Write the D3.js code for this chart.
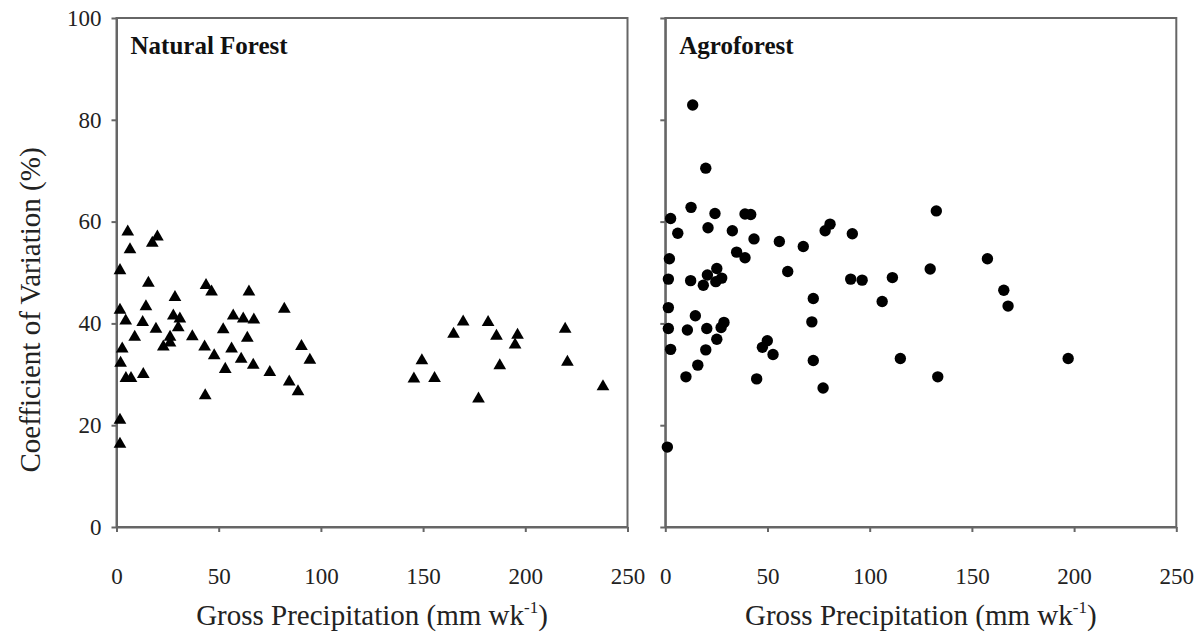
<!DOCTYPE html>
<html>
<head>
<meta charset="utf-8">
<script src="https://cdn.jsdelivr.net/npm/d3@7"></script>
<style>
  body { margin: 0; background: #fff; }
  svg { display: block; font-family: "Liberation Serif", "DejaVu Serif", serif; }
  .ejes path, .ejes line { stroke: #666; stroke-width: 2; }
  .ejes text { font-family: "Liberation Serif", "DejaVu Serif", serif; font-size: 23px; fill: #222; }
  .labels { font-size: 29px; fill: #222; }
  .titulo { font-size: 25px; font-weight: bold; fill: #111; }
</style>
</head>
<body>
<div id="graf"></div>
<script>
// Natural Forest: gross precipitation (mm/wk) and CV (%)
const forestX = [5.5, 20, 17.5, 6.6, 1.7, 15.6, 43.8, 46.5, 64.8, 28.6, 1.7, 14.4, 82.1, 4.5, 12.8,
  27.8, 31, 57.1, 62, 67.2, 19.3, 30.2, 52.2, 8.9, 26.2, 37.1, 64, 22.9, 26.2, 2.8, 43.1, 56.3,
  90.5, 47.8, 61, 94.6, 2, 66.9, 53.2, 75, 4.6, 7.1, 13.1, 84.5, 88.8, 43.4, 1.7, 1.7,
  169.6, 181.8, 164.9, 185.9, 196.2, 195, 219.5, 149.4, 220.6, 145.5, 155.6, 187.5, 177.1, 238]
const forestCV = [58, 57, 55.8, 54.5, 50.4, 47.9, 47.5, 46.2, 46.2, 45.1, 42.6, 43.3, 42.8, 40.5, 40.2,
  41.5, 40.9, 41.5, 40.9, 40.7, 38.9, 39.2, 38.8, 37.3, 37.3, 37.4, 37.1, 35.4, 36.2, 35, 35.4, 35,
  35.5, 33.7, 33, 32.8, 32.2, 31.8, 31, 30.4, 29.2, 29.2, 30, 28.5, 26.6, 25.8, 21, 16.3,
  40.3, 40.2, 37.9, 37.5, 37.7, 35.8, 38.9, 32.7, 32.4, 29.1, 29.2, 31.7, 25.2, 27.6]

// Agroforest
const agroX = [13.4, 19.8, 12.6, 2.6, 24.3, 39, 41.8, 80.6, 78.2, 91.5, 6.1, 20.9, 32.8, 43.4, 55.8,
  67.5, 34.9, 39, 2, 25.2, 59.9, 1.5, 12.4, 20.6, 18.6, 24.7, 27.6, 90.7, 96.3, 72.4, 1.5, 14.7,
  71.7, 1.5, 10.8, 20.3, 28.7, 27.3, 25.2, 49.9, 47.5, 2.6, 19.8, 52.7, 72.4, 15.9, 10.1, 44.7,
  77.2, 1, 132.6, 157.6, 129.6, 111.1, 106.1, 165.6, 167.7, 115, 133.3, 197.1]
const agroCV = [82.9, 70.5, 62.8, 60.6, 61.6, 61.5, 61.4, 59.5, 58.2, 57.6, 57.7, 58.8, 58.2, 56.6, 56.1,
  55.1, 54, 52.9, 52.7, 50.8, 50.2, 48.7, 48.4, 49.5, 47.5, 48.2, 48.9, 48.7, 48.5, 44.9, 43.1, 41.5,
  40.3, 39, 38.7, 39, 40.2, 39.2, 36.9, 36.6, 35.3, 34.9, 34.8, 33.9, 32.7, 31.8, 29.5, 29.1,
  27.3, 15.7, 62.1, 52.7, 50.7, 49, 44.3, 46.5, 43.4, 33.1, 29.5, 33.1]

const xTicks = [0, 50, 100, 150, 200, 250]
const yTicks = [0, 20, 40, 60, 80, 100]

const paneles = [
  { nombre: "Natural Forest", xs: forestX, ys: forestCV, forma: d3.symbolTriangle, left: 116.5, etiquetasY: true },
  { nombre: "Agroforest", xs: agroX, ys: agroCV, forma: d3.symbolCircle, left: 665.3, etiquetasY: false }
]

const anchoTotal = 1202
const altoTotal = 632
const margenTop = 18
const ancho = 511
const alto = 509

const svg = d3.select("#graf")
  .append("svg")
  .attr("width", anchoTotal)
  .attr("height", altoTotal)

const y = d3.scaleLinear().domain([0, 100]).range([alto, 0])

paneles.forEach((p) => {
  const g = svg.append("g").attr("transform", `translate(${p.left}, ${margenTop})`)
  const x = d3.scaleLinear().domain([0, 250]).range([0, ancho])

  // marco
  g.append("rect")
    .attr("width", ancho)
    .attr("height", alto)
    .attr("fill", "none")
    .attr("stroke", "#666")
    .attr("stroke-width", 2)

  g.append("g")
    .attr("class", "ejes")
    .attr("transform", `translate(0, ${alto})`)
    .call(d3.axisBottom(x).tickValues(xTicks).tickSize(5).tickSizeOuter(0).tickPadding(36).tickFormat(d3.format("d")))

  const ey = g.append("g")
    .attr("class", "ejes")
    .call(d3.axisLeft(y).tickValues(yTicks).tickSize(5).tickSizeOuter(0).tickPadding(10))
  if (!p.etiquetasY) ey.selectAll("text").remove()

  g.append("text")
    .attr("x", 14)
    .attr("y", 36)
    .attr("class", "titulo")
    .text(p.nombre)

  const lbl = g.append("text")
    .attr("x", ancho / 2)
    .attr("y", alto + 98)
    .attr("text-anchor", "middle")
    .attr("class", "labels")
  lbl.append("tspan").text("Gross Precipitation (mm wk")
  lbl.append("tspan").attr("dy", -12).attr("font-size", 17).text("-1")
  lbl.append("tspan").attr("dy", 12).text(")")

  const simbolo = d3.symbol().type(p.forma).size(p.forma === d3.symbolCircle ? 102 : 70)

  g.selectAll("path.punto")
    .data(p.xs.map((v, i) => [v, p.ys[i]]))
    .join("path")
    .attr("class", "punto")
    .attr("d", simbolo)
    .attr("transform", (d) => `translate(${x(d[0])}, ${y(d[1])})`)
    .attr("fill", "#000")
})

svg.append("g")
  .attr("transform", `translate(40, 310)`)
  .append("text")
  .attr("transform", "rotate(-90)")
  .attr("text-anchor", "middle")
  .attr("class", "labels")
  .attr("font-size", 28)
  .text("Coefficient of Variation (%)")
</script>
</body>
</html>
